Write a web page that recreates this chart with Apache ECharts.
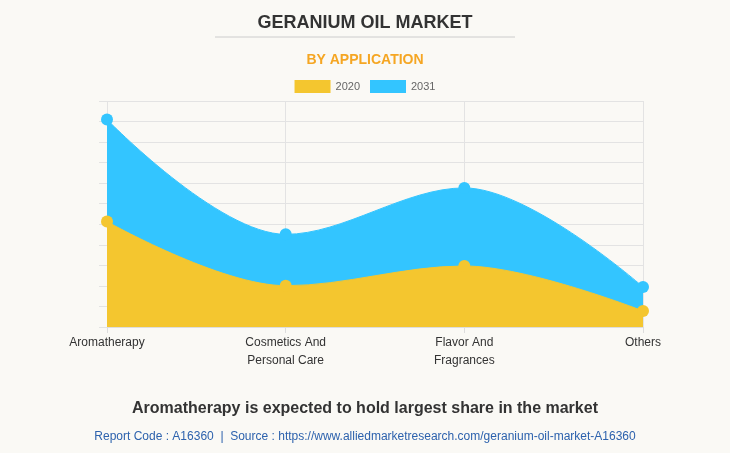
<!DOCTYPE html>
<html>
<head>
<meta charset="utf-8">
<script src="https://cdn.jsdelivr.net/npm/echarts@6/dist/echarts.min.js"></script>
<style>
html,body{margin:0;padding:0;background:#faf9f5;}
#c{width:730px;height:453px;}
</style>
</head>
<body>
<div id="c"></div>
<script>
const categories = ['Aromatherapy', 'Cosmetics And\nPersonal Care', 'Flavor And\nFragrances', 'Others'];
const values2020 = [51.3, 20.1, 29.7, 7.8];
const values2031 = [101, 45.1, 67.7, 19.5];
const legendNames = ['2020', '2031'];

const chart = echarts.init(document.getElementById('c'));
chart.setOption({
  backgroundColor: '#faf9f5',
  animation: false,
  title: [
    {text: 'GERANIUM OIL MARKET', left: 'center', top: 9,
     textStyle: {fontFamily: 'Arial, Liberation Sans', fontSize: 18, fontWeight: 'bold', color: '#333'}},
    {text: 'BY APPLICATION', left: 'center', top: 48,
     textStyle: {fontFamily: 'Arial, Liberation Sans', fontSize: 14, fontWeight: 'bold', color: '#f5a623'}},
    {text: 'Aromatherapy is expected to hold largest share in the market', left: 'center', top: 396,
     textStyle: {fontFamily: 'Arial, Liberation Sans', fontSize: 16, fontWeight: 'bold', color: '#333'}},
    {text: 'Report Code : A16360  |  Source : https://www.alliedmarketresearch.com/geranium-oil-market-A16360', left: 'center', top: 426,
     textStyle: {fontFamily: 'Arial, Liberation Sans', fontSize: 12, fontWeight: 'normal', color: '#2d62ad'}}
  ],
  graphic: [{type: 'line', shape: {x1: 215, y1: 37, x2: 515, y2: 37}, style: {stroke: '#cccccc', lineWidth: 1}}],
  legend: {
    data: legendNames, top: 75, left: 'center', itemWidth: 36, itemHeight: 13, itemGap: 10,
    icon: 'rect',
    textStyle: {fontFamily: 'Arial, Liberation Sans', fontSize: 11, color: '#666'}
  },
  grid: {left: 107, right: 87, top: 101, bottom: 126},
  xAxis: {
    type: 'category', data: categories, boundaryGap: false,
    axisLine: {lineStyle: {color: '#dddddd'}},
    axisTick: {show: true, length: 6, lineStyle: {color: '#dddddd'}},
    axisLabel: {fontFamily: 'Arial, Liberation Sans', fontSize: 12, color: '#333', lineHeight: 18, margin: 7},
    splitLine: {show: true, lineStyle: {color: '#e3e3e3'}}
  },
  yAxis: {
    type: 'value', min: 0, max: 110, interval: 10,
    axisLine: {show: false},
    axisTick: {show: true, length: 8, lineStyle: {color: '#e3e3e3'}},
    axisLabel: {show: false},
    splitLine: {lineStyle: {color: '#e3e3e3'}}
  },
  series: [
    {name: '2020', type: 'line', data: values2020, smooth: 0.35, z: 3,
     symbol: 'circle', symbolSize: 12,
     itemStyle: {color: '#f4c62f'}, lineStyle: {width: 1, color: '#f4c62f'},
     areaStyle: {color: '#f4c62f', opacity: 1}},
    {name: '2031', type: 'line', data: values2031, smooth: 0.35, z: 2,
     symbol: 'circle', symbolSize: 12,
     itemStyle: {color: '#33c5ff'}, lineStyle: {width: 1, color: '#33c5ff'},
     areaStyle: {color: '#33c5ff', opacity: 1}}
  ]
});
</script>
</body>
</html>
